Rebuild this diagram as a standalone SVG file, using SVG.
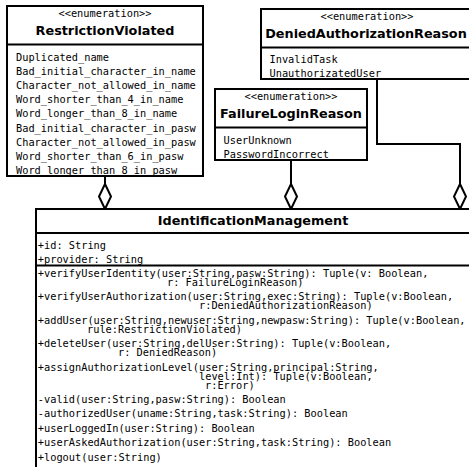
<svg xmlns="http://www.w3.org/2000/svg" width="469" height="467" viewBox="0 0 469 467">
  <style>
    .box { fill: #ffffff; stroke: #000000; stroke-width: 2; }
    .sep { stroke: #000000; stroke-width: 2; fill: none; }
    .stereo { font-family: "DejaVu Sans Mono", "Liberation Mono", monospace; font-size: 10.3px; fill: #000000; text-anchor: middle; }
    .title { font-family: "DejaVu Sans", "Liberation Sans", sans-serif; font-weight: bold; font-size: 12.8px; fill: #000000; text-anchor: middle; }
    .member { font-family: "DejaVu Sans Mono", "Liberation Mono", monospace; font-size: 10.3px; fill: #000000; }
    .link { stroke: #000000; stroke-width: 2; fill: none; marker-end: url(#aggregation); }
  </style>
  <defs>
    <marker id="aggregation" markerUnits="userSpaceOnUse" viewBox="-1 -7 27 14" markerWidth="27" markerHeight="14" refX="25" refY="0" orient="auto">
      <path d="M0,0 L12.5,-6 L25,0 L12.5,6 Z" fill="#ffffff" stroke="#000000" stroke-width="2" stroke-linejoin="miter"/>
    </marker>
  </defs>

  <!-- connectors: aggregation links into IdentificationManagement -->
  <g id="connectors">
    <path class="link" d="M105,176 L105,209"/>
    <path class="link" d="M291,160 L291,209"/>
    <path class="link" d="M377,79 L377,144 L460,144 L460,209"/>
  </g>

  <g id="RestrictionViolated">
    <rect class="box" x="7" y="6" width="196" height="170"/>
    <line class="sep" x1="7" y1="44.5" x2="203" y2="44.5"/>
    <text class="stereo" x="105" y="17">&lt;&lt;enumeration&gt;&gt;</text>
    <text class="title" x="105" y="35">RestrictionViolated</text>
    <text class="member" x="16" y="61">Duplicated_name</text>
    <text class="member" x="16" y="75.1">Bad_initial_character_in_name</text>
    <text class="member" x="16" y="89.2">Character_not_allowed_in_name</text>
    <text class="member" x="16" y="103.3">Word_shorter_than_4_in_name</text>
    <text class="member" x="16" y="117.4">Word_longer_than_8_in_name</text>
    <text class="member" x="16" y="131.5">Bad_initial_character_in_pasw</text>
    <text class="member" x="16" y="145.6">Character_not_allowed_in_pasw</text>
    <text class="member" x="16" y="159.7">Word_shorter_than_6_in_pasw</text>
    <text class="member" x="16" y="173.8">Word_longer_than_8_in_pasw</text>
    <line class="sep" x1="7" y1="176" x2="203" y2="176"/>
  </g>

  <g id="DeniedAuthorizationReason">
    <rect class="box" x="261" y="9" width="212" height="70"/>
    <line class="sep" x1="261" y1="47.5" x2="473" y2="47.5"/>
    <text class="stereo" x="367" y="19.5">&lt;&lt;enumeration&gt;&gt;</text>
    <text class="title" x="366" y="37.5">DeniedAuthorizationReason</text>
    <text class="member" x="269.5" y="63.3">InvalidTask</text>
    <text class="member" x="269.5" y="77.4">UnauthorizatedUser</text>
    <line class="sep" x1="261" y1="79" x2="473" y2="79"/>
  </g>

  <g id="FailureLoginReason">
    <rect class="box" x="215" y="89" width="152" height="71"/>
    <line class="sep" x1="215" y1="127.5" x2="367" y2="127.5"/>
    <text class="stereo" x="291" y="99.5">&lt;&lt;enumeration&gt;&gt;</text>
    <text class="title" x="291" y="117.5">FailureLoginReason</text>
    <text class="member" x="223.5" y="143.6">UserUnknown</text>
    <text class="member" x="223.5" y="157.7">PasswordIncorrect</text>
    <line class="sep" x1="215" y1="160" x2="367" y2="160"/>
  </g>

  <g id="IdentificationManagement">
    <rect class="box" x="36" y="209" width="436" height="264"/>
    <line class="sep" x1="36" y1="233" x2="472" y2="233"/>
    <text class="title" x="253" y="225">IdentificationManagement</text>
    <text class="member" x="37.8" y="249.3">+id: String</text>
    <text class="member" x="37.8" y="263.4">+provider: String</text>
    <line class="sep" x1="36" y1="265.5" x2="472" y2="265.5"/>
    <text class="member" x="37.8" y="277">+verifyUserIdentity(user:String,pasw:String): Tuple(v: Boolean,</text>
    <text class="member" x="167" y="286">r: FailureLoginReason)</text>
    <text class="member" x="37.8" y="300.4">+verifyUserAuthorization(user:String,exec:String): Tuple(v:Boolean,</text>
    <text class="member" x="199" y="309.4">r:DeniedAuthorizationReason)</text>
    <text class="member" x="37.8" y="323.8">+addUser(user:String,newuser:String,newpasw:String): Tuple(v:Boolean,</text>
    <text class="member" x="87" y="332.8">rule:RestrictionViolated)</text>
    <text class="member" x="37.8" y="347.2">+deleteUser(user:String,delUser:String): Tuple(v:Boolean,</text>
    <text class="member" x="118" y="356.2">r: DeniedReason)</text>
    <text class="member" x="37.8" y="370.6">+assignAuthorizationLevel(user:String,principal:String,</text>
    <text class="member" x="199" y="379.6">level:Int): Tuple(v:Boolean,</text>
    <text class="member" x="205" y="388.6">r:Error)</text>
    <text class="member" x="37.8" y="403">-valid(user:String,pasw:String): Boolean</text>
    <text class="member" x="37.8" y="417.4">-authorizedUser(uname:String,task:String): Boolean</text>
    <text class="member" x="37.8" y="431.8">+userLoggedIn(user:String): Boolean</text>
    <text class="member" x="37.8" y="446.2">+userAskedAuthorization(user:String,task:String): Boolean</text>
    <text class="member" x="37.8" y="460.6">+logout(user:String)</text>
  </g>
</svg>
